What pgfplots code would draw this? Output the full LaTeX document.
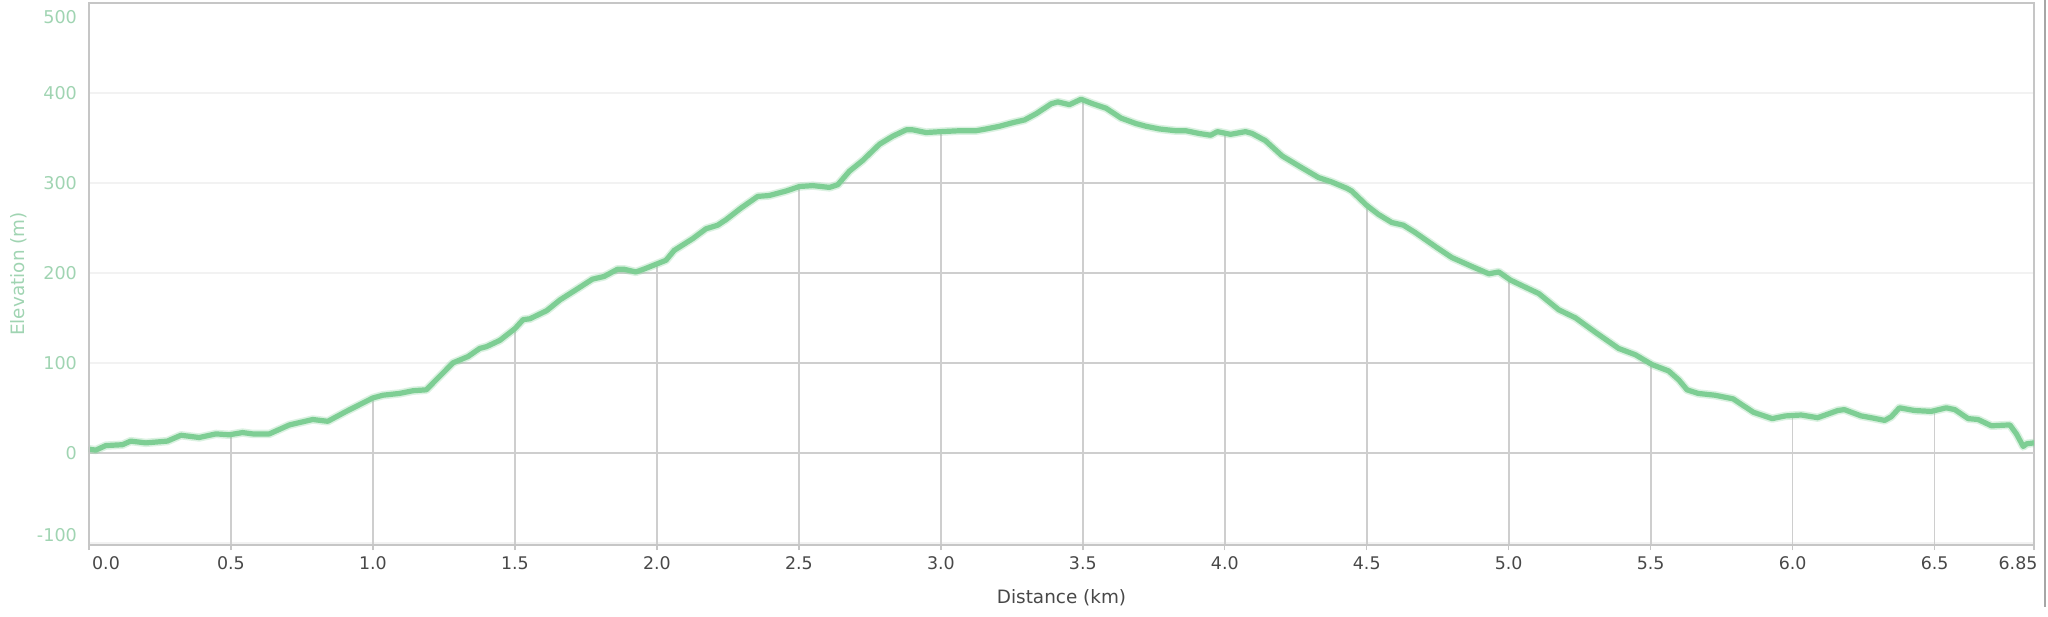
\documentclass[border=0pt]{standalone}
\usepackage{fontspec}
\setmainfont{DejaVu Sans}
\usepackage{pgfplots}
\usepackage{pgfplotstable}
\pgfplotsset{compat=1.18}

\definecolor{curve}{RGB}{126,206,148}
\definecolor{ylab}{RGB}{160,212,178}
\definecolor{xlab}{RGB}{72,72,72}
\definecolor{gridd}{RGB}{206,206,206}
\definecolor{gridf}{RGB}{242,242,242}
\definecolor{axisc}{RGB}{198,198,198}

% distance (km), elevation (m)
\pgfplotstableread{
x y
0.000 4
0.024 3
0.059 8
0.118 9
0.147 13
0.200 11
0.276 13
0.324 19.5
0.388 17
0.447 21
0.494 20
0.541 22.5
0.576 21
0.635 21
0.706 31
0.788 37
0.841 35
0.906 46
1.000 61
1.035 64
1.094 66
1.141 69
1.188 70
1.235 85
1.282 100
1.335 107
1.376 116
1.400 118
1.447 125
1.500 138
1.529 148
1.553 149
1.612 158
1.659 170
1.714 181
1.773 193
1.814 196
1.861 204
1.885 204
1.926 201
1.961 205
2.032 214
2.061 225
2.126 238
2.173 249
2.214 253
2.243 259
2.296 272
2.355 285
2.396 286
2.455 291
2.502 296
2.549 297
2.608 295
2.637 298
2.678 313
2.725 325
2.784 343
2.831 352
2.878 359
2.901 359
2.948 356
3.001 357
3.066 358
3.124 358
3.160 360
3.207 363
3.254 367
3.295 370
3.336 377
3.389 388
3.412 390
3.453 387
3.494 393
3.535 388
3.582 383
3.635 372
3.687 366
3.722 363
3.769 360
3.827 358
3.863 358
3.909 355
3.950 353
3.974 357
4.020 354
4.073 357
4.096 355
4.143 347
4.202 330
4.260 319
4.330 306
4.377 301
4.430 294
4.447 291
4.500 275
4.541 265
4.588 256
4.629 253
4.670 245
4.752 227
4.800 217
4.871 207
4.930 199
4.965 201
5.006 192
5.059 184
5.106 177
5.176 159
5.235 150
5.305 134
5.387 116
5.446 109
5.505 98
5.563 91
5.599 81
5.628 70
5.667 66
5.726 64
5.790 60
5.862 45
5.928 38
5.975 41
6.030 42
6.088 39
6.159 47
6.182 48
6.241 41
6.276 39
6.324 36
6.347 40
6.376 50
6.429 47
6.488 46
6.541 50
6.571 48
6.618 38
6.653 37
6.700 30
6.765 31
6.788 21
6.812 7
6.824 10
6.850 11
}\elev

\begin{document}
\begin{tikzpicture}
\begin{axis}[
    name=ax,
    scale only axis,
    width=972.5pt, height=271pt,
    xmin=0, xmax=6.85,
    ymin=-102.5, ymax=500,
    xtick={0,0.5,1,1.5,2,2.5,3,3.5,4,4.5,5,5.5,6,6.5,6.85},
    xticklabels={\hspace*{17pt}0.0,0.5,1.0,1.5,2.0,2.5,3.0,3.5,4.0,4.5,5.0,5.5,6.0,6.5,6.85\hspace*{16pt}},
    ytick={-100,0,100,200,300,400,500},
    yticklabels={\raisebox{3.9pt}[\height][\depth]{-100},0,100,200,300,400,\raisebox{-7.2pt}[\height][\depth]{500}},
    tick pos=left,
    tick align=outside,
    major tick length=2.5pt,
    xtick style={draw=axisc, line width=0.7pt},
    ytick style={draw=none},
    ymajorgrids,
    grid style={draw=gridf, line width=0.8pt},
    axis line style={draw=axisc, line width=0.6pt},
    x tick label style={font=\fontsize{8.7}{10}\selectfont, text=xlab},
    y tick label style={font=\fontsize{8.8}{10}\selectfont, text=ylab},
    xlabel={Distance (km)},
    ylabel={Elevation (m)},
    x label style={at={(axis description cs:0.5,-0.098)}, anchor=center,
                   font=\fontsize{9.2}{11}\selectfont, text=xlab},
    y label style={at={(axis description cs:-0.036,0.5)}, anchor=center,
                   font=\fontsize{9.2}{11}\selectfont, text=ylab},
    unbounded coords=jump,
]

% grid lines that show only under the profile
\addplot [draw=gridd, line width=0.8pt] coordinates {
    (0.5,-102.5) (0.5,21) (0.5,nan)
    (1.0,-102.5) (1.0,61) (1.0,nan)
    (1.5,-102.5) (1.5,138) (1.5,nan)
    (2.0,-102.5) (2.0,208) (2.0,nan)
    (2.5,-102.5) (2.5,296) (2.5,nan)
    (3.0,-102.5) (3.0,357) (3.0,nan)
    (3.5,-102.5) (3.5,392) (3.5,nan)
    (4.0,-102.5) (4.0,355) (4.0,nan)
    (4.5,-102.5) (4.5,275) (4.5,nan)
    (5.0,-102.5) (5.0,193) (5.0,nan)
    (5.5,-102.5) (5.5,99) (5.5,nan)
    (6.0,-102.5) (6.0,42) (6.0,nan)
    (6.5,-102.5) (6.5,47) (6.5,nan)
    (0,0) (6.85,0) (6.85,nan)
    (1.282,100) (5.494,100) (5.494,nan)
    (1.84,200) (4.93,200) (4.93,nan)
    (2.645,300) (4.385,300)
};

% elevation profile
\addplot [draw=curve, line width=4.2pt, opacity=0.28, line join=round] table {\elev};
\addplot [draw=curve, line width=2.6pt, line join=round, line cap=round] table {\elev};

\draw [draw=axisc, line width=1.5pt] (rel axis cs:0,1) -- (rel axis cs:0,0) -- (rel axis cs:1,0);
\end{axis}
\draw [gray!70, line width=0.8pt] ([xshift=5.5pt,yshift=1.5pt]ax.north east) -- ([xshift=5.5pt,yshift=-31pt]ax.south east);
\pgfresetboundingbox
\path [use as bounding box] ([shift={(-44.5pt,-35.5pt)}]ax.south west) rectangle ([shift={(7pt,1.5pt)}]ax.north east);
\end{tikzpicture}
\end{document}
